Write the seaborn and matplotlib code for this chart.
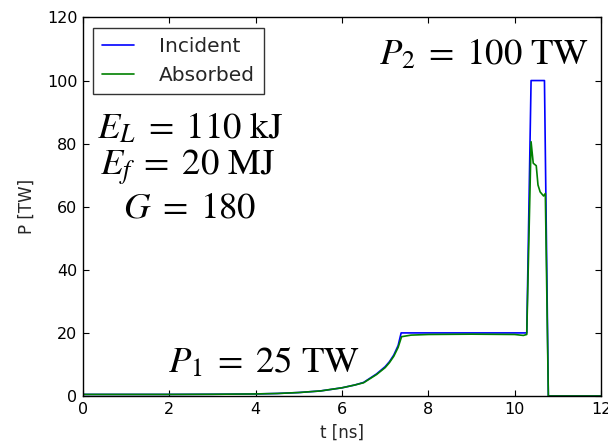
import matplotlib
matplotlib.use("Agg")
import matplotlib.pyplot as plt
import pandas as pd
import seaborn as sns

#################### DATA ####################
# incident laser power [TW] vs time [ns]
t_incident = [0, 1, 2, 3, 4, 4.5, 5, 5.5, 6, 6.3, 6.5, 6.8, 7.0, 7.1, 7.2, 7.3,
              7.37, 10.28, 10.38, 10.69, 10.78, 12]
p_incident = [0.5, 0.5, 0.5, 0.55, 0.65, 0.8, 1.1, 1.6, 2.6, 3.5, 4.3, 7.0, 9.3,
              10.9, 13.0, 16.0, 20, 20, 100, 100, 0, 0]

# absorbed power [TW] vs time [ns]
t_absorbed = [0, 1, 2, 3, 4, 4.5, 5, 5.5, 6, 6.3, 6.5, 6.8, 7.0, 7.1, 7.2, 7.3,
              7.38, 7.6, 8.0, 9.0, 10.0, 10.2, 10.28, 10.38, 10.43, 10.5, 10.54,
              10.59, 10.67, 10.71, 10.78, 12]
p_absorbed = [0.5, 0.5, 0.5, 0.55, 0.65, 0.8, 1.1, 1.6, 2.6, 3.5, 4.2, 6.8, 9.0,
              10.6, 12.6, 15.4, 18.8, 19.3, 19.5, 19.6, 19.5, 19.2, 19.5, 80.6,
              73.8, 73.0, 66.9, 64.7, 63.4, 64.2, 0, 0]

series_names = ["Incident", "Absorbed"]

#################### CONFIG ####################
sns.set_style("ticks")
plt.rcParams["font.family"] = ["DejaVu Sans"]
plt.rcParams["mathtext.fontset"] = "stix"

BLUE = "#0000ff"
GREEN = "#008000"

df = pd.concat(
    [
        pd.DataFrame({"t": t_incident, "P": p_incident, "series": series_names[0]}),
        pd.DataFrame({"t": t_absorbed, "P": p_absorbed, "series": series_names[1]}),
    ],
    ignore_index=True,
)

#################### PLOT ####################
fig = plt.figure(figsize=(6.08, 4.43), dpi=100)
ax = fig.add_axes([0.1365, 0.1061, 0.852, 0.8545])

sns.lineplot(
    data=df,
    x="t",
    y="P",
    hue="series",
    hue_order=series_names,
    palette=[BLUE, GREEN],
    estimator=None,
    sort=False,
    linewidth=1.2,
    ax=ax,
)

ax.set_xlim(0, 12)
ax.set_ylim(0, 120)
ax.set_xticks(range(0, 13, 2))
ax.set_yticks(range(0, 121, 20))
ax.tick_params(direction="in", top=True, right=True, length=4, width=0.8,
               labelsize=11.5, colors="k", pad=4)
for s in ax.spines.values():
    s.set_color("k")
    s.set_linewidth(1.0)

ax.set_xlabel("t [ns]", fontsize=12, labelpad=5)
ax.set_ylabel("P [TW]", fontsize=12, labelpad=8)

sns.move_legend(
    ax, "upper left", title=None, frameon=True, fancybox=False,
    edgecolor="k", fontsize=14.5, handlelength=1.6, handletextpad=1.2,
    borderpad=0.45, borderaxespad=0.5,
)
ax.get_legend().get_frame().set_linewidth(1.0)

txt = dict(ha="center", va="baseline", fontsize=26.5, color="k")
ax.text(2.48, 81.8, r"$E_L\;=\;110\ \mathrm{kJ}$", **txt)
ax.text(2.41, 70.0, r"$E_f\;=\;20\ \mathrm{MJ}$", **txt)
ax.text(2.48, 56.7, r"$G\;=\;180$", **txt)
ax.text(9.29, 105.3, r"$P_2\;=\;100\ \mathrm{TW}$", **txt)
ax.text(4.19, 7.7, r"$P_1\;=\;25\ \mathrm{TW}$", **txt)

plt.savefig("out.png", dpi=100, facecolor="white")
